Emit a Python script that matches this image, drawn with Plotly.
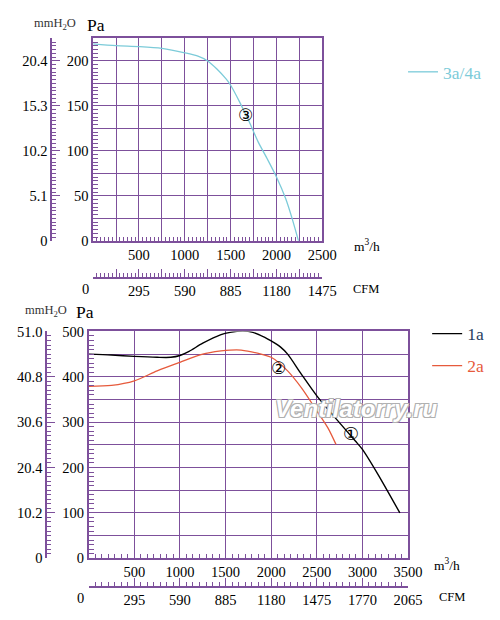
import plotly.graph_objects as go

# upper chart: 3a/4a
flow_3a = [0, 250, 500, 750, 1000, 1150, 1250, 1350, 1450, 1500, 1600, 1700,
           1800, 1900, 2000, 2100, 2170, 2240]
press_3a = [219, 217, 216, 214, 209, 205, 200, 191, 180, 173, 154, 133,
            110, 91, 71, 47, 25, 0]

# lower chart: 1a and 2a
flow_1a = [0, 250, 500, 750, 900, 1000, 1100, 1250, 1450, 1550, 1690, 1800,
           1930, 2000, 2100, 2180, 2330, 2500, 2700, 2920, 3000, 3170, 3410]
press_1a = [450, 448, 445, 443, 443, 447, 456, 474, 493, 498, 501, 498,
            487, 479, 466, 450, 406, 358, 310, 259, 240, 185, 100]

flow_2a = [0, 250, 500, 750, 1000, 1250, 1450, 1550, 1670, 1890, 2000, 2180,
           2330, 2500, 2620, 2710]
press_2a = [379, 381, 391, 413, 432, 450, 457, 459, 459, 450, 443, 413,
            376, 325, 288, 251]

# tick labels
top_m3h = [0, 250, 500, 750, 1000, 1250, 1500, 1750, 2000, 2250, 2500]
top_m3h_txt = ["", "", "500", "", "1000", "", "1500", "", "2000", "", "2500"]
top_cfm_txt = ["", "", "295", "", "590", "", "885", "", "1180", "", "1475"]
top_pa = [0, 25, 50, 75, 100, 125, 150, 175, 200]
top_pa_txt = ["0", "", "50", "", "100", "", "150", "", "200"]
top_mm = [0, 5.1, 10.2, 15.3, 20.4]
top_mm_txt = ["0", "5.1", "10.2", "15.3", "20.4"]

bot_m3h = [0, 500, 1000, 1500, 2000, 2500, 3000, 3500]
bot_m3h_txt = ["", "500", "1000", "1500", "2000", "2500", "3000", "3500"]
bot_cfm_txt = ["", "295", "590", "885", "1180", "1475", "1770", "2065"]
bot_pa = [0, 50, 100, 150, 200, 250, 300, 350, 400, 450, 500]
bot_pa_txt = ["0", "", "100", "", "200", "", "300", "", "400", "", "500"]
bot_mm = [0, 10.2, 20.4, 30.6, 40.8, 51.0]
bot_mm_txt = ["0", "10.2", "20.4", "30.6", "40.8", "51.0"]

PURPLE = "#7d509b"
CYAN = "#7ccbd9"
RED = "#e65a3c"
SERIF = "Liberation Serif"
tick_font = dict(family=SERIF, size=14.5, color="black")

# the page shows the figure slightly shrunk and offset; map picture px -> paper
W, H = 500, 620
OX, OY, SX, SY = 8, 15, 0.967, 0.975


def fx(px):
    return (px - OX) / SX / W


def fy(py):
    return 1 - (py - OY) / SY / H


fig = go.Figure()

fig.add_trace(go.Scatter(
    x=flow_3a, y=press_3a, xaxis="x", yaxis="y",
    mode="lines", line=dict(color=CYAN, width=1.3, shape="spline", smoothing=0.8),
    name=f"<span style='color:{CYAN}'>3a/4a</span>", legend="legend",
))
fig.add_trace(go.Scatter(
    x=flow_1a, y=press_1a, xaxis="x2", yaxis="y2",
    mode="lines", line=dict(color="black", width=1.4, shape="spline", smoothing=0.8),
    name="1a", legend="legend2",
))
fig.add_trace(go.Scatter(
    x=flow_2a, y=press_2a, xaxis="x2", yaxis="y2",
    mode="lines", line=dict(color=RED, width=1.3, shape="spline", smoothing=0.8),
    name=f"<span style='color:{RED}'>2a</span>", legend="legend3",
))

# empty traces so the extra (mmH2O / CFM) axes get drawn
for xa, ya in [("x3", "y"), ("x", "y3"), ("x4", "y2"), ("x2", "y4")]:
    fig.add_trace(go.Scatter(x=[], y=[], xaxis=xa, yaxis=ya, showlegend=False,
                             hoverinfo="skip"))


def main_x(domain, rng, vals, txt, minor_dt, anchor):
    return dict(
        domain=domain, range=rng, anchor=anchor,
        tickmode="array", tickvals=vals, ticktext=txt,
        ticks="inside", ticklen=5, tickcolor=PURPLE, tickfont=tick_font,
        showgrid=True, gridcolor=PURPLE, gridwidth=1.2,
        showline=True, linecolor=PURPLE, linewidth=1.6, mirror=True,
        zeroline=False, fixedrange=True,
        minor=dict(ticks="inside", ticklen=4, dtick=minor_dt, tick0=0,
                   tickcolor=PURPLE, showgrid=False),
    )


def main_y(domain, rng, vals, txt, minor_dt, anchor):
    return dict(
        domain=domain, range=rng, anchor=anchor,
        tickmode="array", tickvals=vals, ticktext=txt,
        ticks="inside", ticklen=5, tickcolor=PURPLE, tickfont=tick_font,
        showgrid=True, gridcolor=PURPLE, gridwidth=1.2,
        showline=True, linecolor=PURPLE, linewidth=1.6, mirror=True,
        zeroline=False, fixedrange=True,
        minor=dict(ticks="inside", ticklen=5, dtick=minor_dt, tick0=0,
                   tickcolor=PURPLE, showgrid=False),
    )


def extra_axis(over, pos, rng, vals, txt, minor_dt, side):
    return dict(
        overlaying=over, anchor="free", position=pos, side=side, range=rng,
        tickmode="array", tickvals=vals, ticktext=txt,
        ticks="inside", ticklen=8, tickcolor=PURPLE, tickfont=tick_font,
        showgrid=False, showline=True, linecolor=PURPLE, linewidth=1.6,
        zeroline=False, fixedrange=True,
        minor=dict(ticks="inside", ticklen=4, dtick=minor_dt, tick0=0,
                   tickcolor=PURPLE),
    )


legend_font = dict(family=SERIF, size=17.5)

fig.update_layout(
    width=W, height=H,
    margin=dict(l=0, r=0, t=0, b=0),
    paper_bgcolor="white", plot_bgcolor="white",
    showlegend=True,
    xaxis=main_x([fx(92.7), fx(320.7)], [0, 2500], top_m3h, top_m3h_txt, 250 / 6, "y"),
    yaxis=main_y([fy(240), fy(37.5)], [0, 225], top_pa, top_pa_txt, 25 / 6, "x"),
    xaxis3=extra_axis("x", fy(277), [0, 2500], top_m3h, top_cfm_txt, 250 / 6, "bottom"),
    yaxis3=extra_axis("y", fx(51), [0, 22.95], top_mm, top_mm_txt, 0.425, "left"),
    xaxis2=main_x([fx(88.3), fx(406)], [0, 3500], bot_m3h, bot_m3h_txt, 500 / 7, "y2"),
    yaxis2=main_y([fy(557.7), fy(330.7)], [0, 500], bot_pa, bot_pa_txt, 10, "x2"),
    xaxis4=extra_axis("x2", fy(586.7), [0, 3500], bot_m3h, bot_cfm_txt, 500 / 7, "bottom"),
    yaxis4=extra_axis("y2", fx(46), [0, 51.0], bot_mm, bot_mm_txt, 1.02, "left"),
    legend=dict(x=fx(401), y=fy(71), xanchor="left", yanchor="middle",
                font=legend_font, bgcolor="rgba(0,0,0,0)"),
    legend2=dict(x=fx(425), y=fy(333), xanchor="left", yanchor="middle",
                 font=legend_font, bgcolor="rgba(0,0,0,0)"),
    legend3=dict(x=fx(425), y=fy(365), xanchor="left", yanchor="middle",
                 font=legend_font, bgcolor="rgba(0,0,0,0)"),
)


def px_note(text, px, py, size=13, family=SERIF, color="black"):
    fig.add_annotation(text=text, x=fx(px), y=fy(py), xref="paper", yref="paper",
                       xanchor="center", yanchor="middle", showarrow=False,
                       font=dict(family=family, size=size, color=color))


# axis titles
px_note("mmH<sub>2</sub>O", 55, 23, size=12.5, color="#333333")
px_note("Pa", 96, 24, size=17.5)
px_note("m<sup>3</sup>/h", 365, 245, size=13.5)
px_note("CFM", 364, 288, size=12.5)
px_note("0", 85, 288, size=14.5)

px_note("mmH<sub>2</sub>O", 46, 310, size=12.5, color="#333333")
px_note("Pa", 85, 311, size=17.5)
px_note("m<sup>3</sup>/h", 445, 564, size=13.5)
px_note("CFM", 450, 596, size=12.5)
px_note("0", 80, 597, size=14.5)

# circled curve numbers
fig.add_annotation(text="③", x=1660, y=140, xref="x", yref="y", showarrow=False,
                   font=dict(family="DejaVu Sans", size=17, color="black"))
fig.add_annotation(text="②", x=2085, y=420, xref="x2", yref="y2", showarrow=False,
                   font=dict(family="DejaVu Sans", size=17, color="black"))
fig.add_annotation(text="①", x=2872, y=275, xref="x2", yref="y2", showarrow=False,
                   font=dict(family="DejaVu Sans", size=18, color="black"))

# watermark
fig.add_annotation(text="Ventilatorry.ru", x=fx(355), y=fy(408),
                   xref="paper", yref="paper", xanchor="center", yanchor="middle",
                   showarrow=False,
                   font=dict(family="Liberation Sans", size=24, color="white",
                             style="italic", weight="bold",
                             shadow="-1px -1px 0 #b0b0b0, 1px -1px 0 #b0b0b0, "
                                    "-1px 1px 0 #b0b0b0, 1px 1px 0 #b0b0b0"))

fig.write_html("out.html")
